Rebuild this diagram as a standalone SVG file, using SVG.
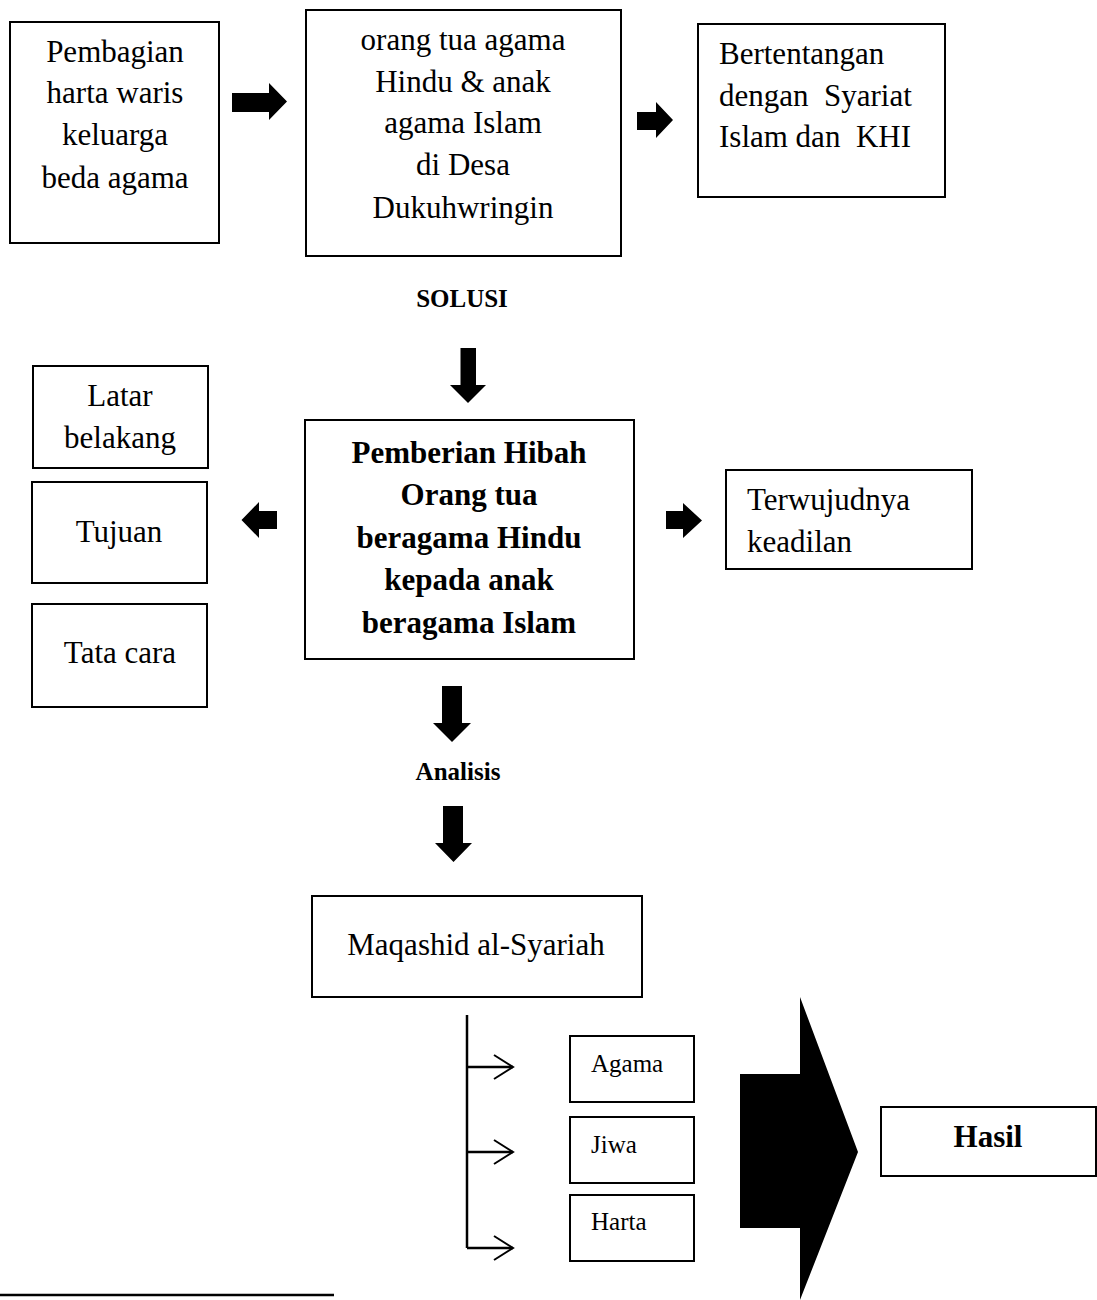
<svg xmlns="http://www.w3.org/2000/svg" width="1097" height="1300" viewBox="0 0 1097 1300">
<style>
  .box { fill: #fff; stroke: #000; stroke-width: 2; }
  .t { font-family: "Liberation Serif", "Times New Roman", serif; font-size: 31px; fill: #000; }
  .c { text-anchor: middle; }
  .b { font-weight: bold; }
  .s { font-size: 25px; }
  .lbl { font-family: "Liberation Serif", "Times New Roman", serif; font-size: 25px; font-weight: bold; fill: #000; text-anchor: middle; }
  .blk { fill: #000; stroke: none; }
  .ln { fill: none; stroke: #000; stroke-width: 2.5; }
  .chev { fill: none; stroke: #000; stroke-width: 2; }
</style>
<rect width="1097" height="1300" fill="#fff"/>

<g id="connectors">
  <polygon class="blk" points="232,93 269,93 269,83 287,101.5 269,120 269,112 232,112"/>
  <polygon class="blk" points="637,112 656,112 656,102 673,120 656,138 656,130 637,130"/>
  <polygon class="blk" points="460.5,348 476,348 476,385 486,385 468,403 450,385 460.5,385"/>
  <polygon class="blk" points="277,511 259,511 259,502 241.5,520 259,538 259,529 277,529"/>
  <polygon class="blk" points="666,511 683,511 683,503 702,520.5 683,538 683,529 666,529"/>
  <polygon class="blk" points="442,686 462,686 462,723 471,723 452,742 433,723 442,723"/>
  <polygon class="blk" points="443,806 463,806 463,843 472,843 453.5,862 435,843 443,843"/>
  <path class="ln" d="M467,1015 V1248"/>
  <path class="ln" d="M467,1067 H513 M467,1152 H513 M467,1248 H513"/>
  <path class="chev" d="M494,1055 L513,1067 L494,1079 M494,1140 L513,1152 L494,1164 M494,1236 L513,1248 L494,1260"/>
  <polygon class="blk" points="740,1074 800,1074 800,997 858,1152 800,1300 800,1228 740,1228"/>
</g>

<g id="node-pembagian">
  <rect class="box" x="10" y="22" width="209" height="221"/>
  <text class="t c" x="115" y="62">Pembagian</text>
  <text class="t c" x="115" y="103">harta waris</text>
  <text class="t c" x="115" y="145">keluarga</text>
  <text class="t c" x="115" y="188">beda agama</text>
</g>

<g id="node-orangtua">
  <rect class="box" x="306" y="10" width="315" height="246"/>
  <text class="t c" x="463" y="50">orang tua agama</text>
  <text class="t c" x="463" y="92">Hindu &amp; anak</text>
  <text class="t c" x="463" y="133">agama Islam</text>
  <text class="t c" x="463" y="175">di Desa</text>
  <text class="t c" x="463" y="218">Dukuhwringin</text>
</g>

<g id="node-bertentangan">
  <rect class="box" x="698" y="24" width="247" height="173"/>
  <text class="t" x="719" y="64">Bertentangan</text>
  <text class="t" x="719" y="106" xml:space="preserve">dengan  Syariat</text>
  <text class="t" x="719" y="147" xml:space="preserve">Islam dan  KHI</text>
</g>

<g id="label-solusi">
  <text class="lbl" x="462" y="307">SOLUSI</text>
</g>

<g id="node-latar">
  <rect class="box" x="33" y="366" width="175" height="102"/>
  <text class="t c" x="120" y="406">Latar</text>
  <text class="t c" x="120" y="448">belakang</text>
</g>

<g id="node-tujuan">
  <rect class="box" x="32" y="482" width="175" height="101"/>
  <text class="t c" x="119" y="542">Tujuan</text>
</g>

<g id="node-tatacara">
  <rect class="box" x="32" y="604" width="175" height="103"/>
  <text class="t c" x="120" y="663">Tata cara</text>
</g>

<g id="node-hibah">
  <rect class="box" x="305" y="420" width="329" height="239"/>
  <text class="t c b" x="469" y="463">Pemberian Hibah</text>
  <text class="t c b" x="469" y="505">Orang tua</text>
  <text class="t c b" x="469" y="548">beragama Hindu</text>
  <text class="t c b" x="469" y="590">kepada anak</text>
  <text class="t c b" x="469" y="633">beragama Islam</text>
</g>

<g id="node-keadilan">
  <rect class="box" x="726" y="470" width="246" height="99"/>
  <text class="t" x="747" y="510">Terwujudnya</text>
  <text class="t" x="747" y="552">keadilan</text>
</g>

<g id="label-analisis">
  <text class="lbl" x="458" y="780">Analisis</text>
</g>

<g id="node-maqashid">
  <rect class="box" x="312" y="896" width="330" height="101"/>
  <text class="t c" x="476" y="955">Maqashid al-Syariah</text>
</g>

<g id="node-agama">
  <rect class="box" x="570" y="1036" width="124" height="66"/>
  <text class="t s" x="591" y="1072">Agama</text>
</g>

<g id="node-jiwa">
  <rect class="box" x="570" y="1117" width="124" height="66"/>
  <text class="t s" x="591" y="1153">Jiwa</text>
</g>

<g id="node-harta">
  <rect class="box" x="570" y="1195" width="124" height="66"/>
  <text class="t s" x="591" y="1230">Harta</text>
</g>

<g id="node-hasil">
  <rect class="box" x="881" y="1107" width="215" height="69"/>
  <text class="t c b" x="988" y="1147">Hasil</text>
</g>

<line x1="0" y1="1295" x2="334" y2="1295" stroke="#000" stroke-width="2.5"/>
</svg>
